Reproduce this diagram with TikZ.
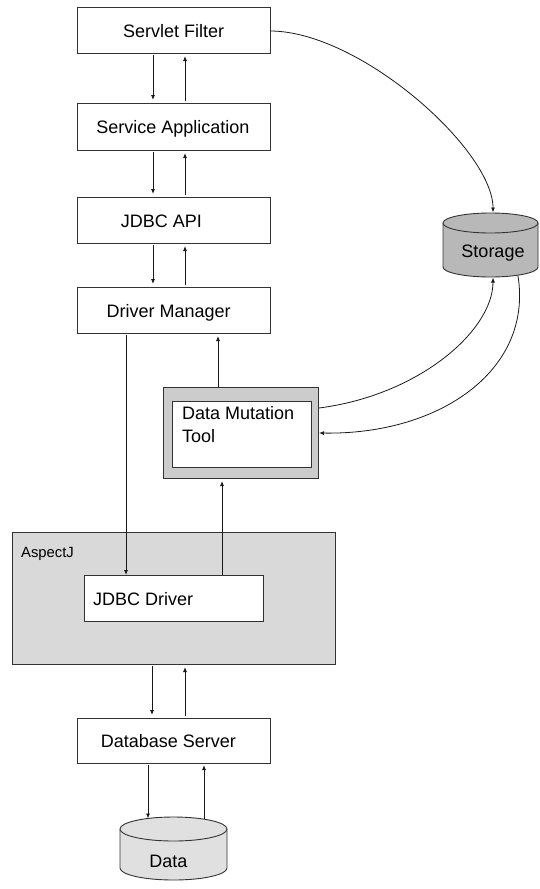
\documentclass[tikz,border=0pt]{standalone}
\usepackage{fontspec}
\setmainfont{Liberation Sans}
\usetikzlibrary{arrows.meta}
\definecolor{edge}{HTML}{333333}
\definecolor{storagegray}{HTML}{B8B8B8}
\definecolor{dmtgray}{HTML}{CCCCCC}
\definecolor{aspgray}{HTML}{D9D9D9}
\definecolor{datagray}{HTML}{E0E0E0}
\begin{document}
\begin{tikzpicture}[x=1pt,y=-1pt,
  box/.style={draw=edge, line width=0.9pt, fill=white, inner sep=0pt, outer sep=0pt},
  lbl/.style={font=\fontsize{18}{23.5}\selectfont, text height=12.9pt, text depth=0pt, inner sep=0pt},
  smalllbl/.style={font=\fontsize{14.8}{18}\selectfont, text height=10.6pt, text depth=0pt, inner sep=0pt},
  arr/.style={-{Latex[length=5pt,width=4pt]}, line width=0.8pt, draw=black!90, shorten <=2pt, shorten >=3pt},
  link/.style={-{Latex[length=5pt,width=4pt]}, line width=0.8pt, draw=black!90}
]
\useasboundingbox (0,0) rectangle (539,889);

% boxes
\node[box, minimum width=193pt, minimum height=46pt] (sf) at (173.5,30) {};
\node[box, minimum width=193pt, minimum height=47pt] (sa) at (173.5,126.5) {};
\node[box, minimum width=193pt, minimum height=46pt] (api) at (173.5,220) {};
\node[box, minimum width=193pt, minimum height=46pt] (dm) at (173.5,310) {};
\node[box, fill=dmtgray, minimum width=155pt, minimum height=91pt] (dmto) at (240.5,432.5) {};
\node[box, minimum width=139pt, minimum height=66pt] (dmti) at (241.5,434) {};
\node[box, fill=aspgray, minimum width=323pt, minimum height=132pt] (asp) at (173.5,598) {};
\node[box, minimum width=179pt, minimum height=46pt] (jd) at (173.5,598) {};
\node[box, minimum width=193pt, minimum height=45pt] (dbs) at (173.5,740.5) {};

% storage cylinder
\filldraw[fill=storagegray, draw=edge, line width=0.9pt]
  (443,223) -- (443,267) arc[start angle=180, end angle=0, x radius=47.5, y radius=10] -- (538,223);
\filldraw[fill=storagegray, draw=edge, line width=0.9pt] (490.5,223) ellipse[x radius=47.5, y radius=10];
% data cylinder
\filldraw[fill=datagray, draw=edge, line width=0.9pt]
  (120,829) -- (120,868) arc[start angle=180, end angle=0, x radius=53.5, y radius=12] -- (227,829);
\filldraw[fill=datagray, draw=edge, line width=0.9pt] (173.5,829) ellipse[x radius=53.5, y radius=12];

% labels
\node[lbl] (sfl) at (173.7,31.5) {Servlet Filter};
\node[lbl] (sal) at (173,127) {Service Application};
\node[lbl] (apil) at (161.3,221) {JDBC API};
\node[lbl] (dml) at (168.7,311) {Driver Manager};
\node[lbl, anchor=west, align=left] (dmtl) at (182,436.5) {Data Mutation\\Tool};
\node[smalllbl, anchor=west] (aspl) at (21,552) {AspectJ};
\node[lbl, anchor=west] (jdl) at (93,599.5) {JDBC Driver};
\node[lbl] (dbsl) at (168.3,741.5) {Database Server};
\node[lbl] (storl) at (493,251.5) {Storage};
\node[lbl] (datal) at (168.5,861) {Data};

% connector coordinates
\coordinate (cL) at (153,0);
\coordinate (cR) at (185,0);
\coordinate (cDM) at (126,0);
\coordinate (cUp1) at (218,0);
\coordinate (cUp2) at (222,0);
\coordinate (cAL) at (152,0);
\coordinate (sfout) at (270,31);
\coordinate (stortop) at (493,212.5);
\coordinate (storbot) at (493,277.5);
\coordinate (storbotR) at (518,276);
\coordinate (dmtout) at (319,408);
\coordinate (dmtin) at (319,433);
\coordinate (dbsL) at (148,765);
\coordinate (datatopL) at (148,818.5);
\coordinate (datatopR) at (204,818.5);

% vertical arrows
\draw[arr] (sf.south -| cL) -- (sa.north -| cL);
\draw[arr] (sa.north -| cR) -- (sf.south -| cR);
\draw[arr] (sa.south -| cL) -- (api.north -| cL);
\draw[arr] (api.north -| cR) -- (sa.south -| cR);
\draw[arr] (api.south -| cL) -- (dm.north -| cL);
\draw[arr] (dm.north -| cR) -- (api.south -| cR);
\draw[arr, shorten >=0pt] (dm.south -| cDM) -- (jd.north -| cDM);
\draw[arr, shorten <=0pt] (dmto.north -| cUp1) -- (dm.south -| cUp1);
\draw[arr, shorten <=0pt] (jd.north -| cUp2) -- (dmto.south -| cUp2);
\draw[arr] (asp.south -| cAL) -- (dbs.north -| cAL);
\draw[arr] (dbs.north -| cR) -- (asp.south -| cR);
\draw[arr, shorten <=0pt, shorten >=0pt] (dbsL) -- (datatopL);
\draw[arr, shorten <=0pt, shorten >=2pt] (datatopR) -- (dbs.south -| datatopR);

% curved connectors
\draw[link] (sfout) .. controls (360,31) and (493,150) .. (stortop);
\draw[link] (dmtout) .. controls (420,395) and (493,330) .. (storbot);
\draw[link] (storbotR) .. controls (533,370) and (440,435) .. (dmtin);
\end{tikzpicture}
\end{document}
